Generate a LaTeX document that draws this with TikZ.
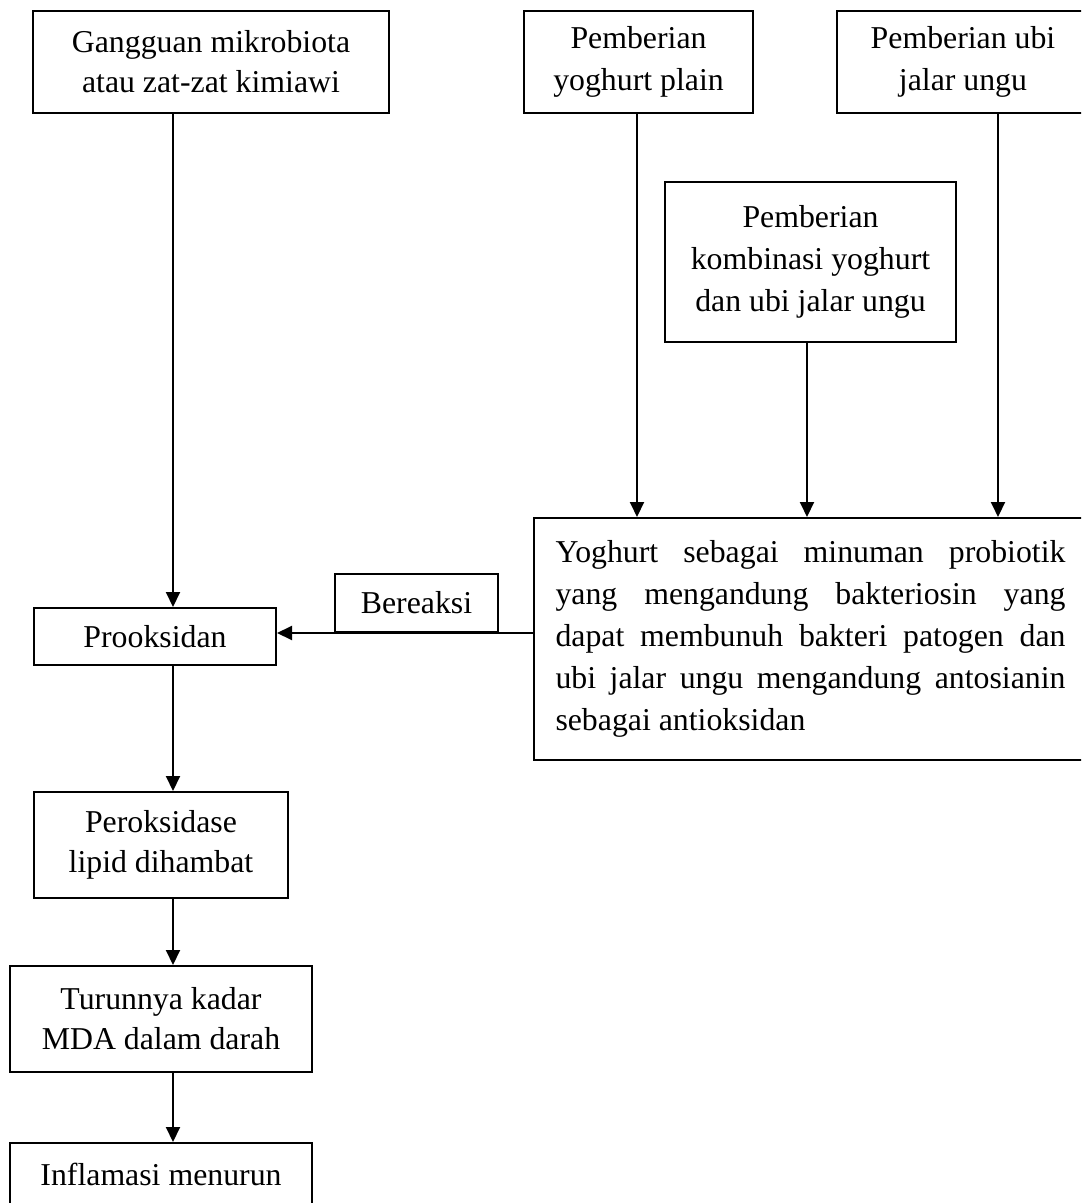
\documentclass[tikz,border=0pt]{standalone}
\usepackage{fontspec}
\setmainfont{Liberation Serif}
\usetikzlibrary{arrows.meta}
\begin{document}
\begin{tikzpicture}[x=0.5pt,y=-0.5pt,
  box/.style={draw, line width=1pt, inner sep=0pt, align=center,
    font=\fontsize{15.9}{20}\selectfont},
  wide/.style={font=\fontsize{15.9}{21}\selectfont},
  arr/.style={line width=1pt, -{Triangle[width=7pt,length=7.5pt]}}]
\path[use as bounding box] (0,0) rectangle (1081,1203);
\clip (0,0) rectangle (1081,1203);

% top row
\node[box, minimum width=178pt, minimum height=51pt] (A) at (211,62) {Gangguan mikrobiota\\atau zat-zat kimiawi};
\node[box, wide, minimum width=114.5pt, minimum height=51pt] (B) at (638.5,62) {Pemberian\\yoghurt plain};
\node[box, wide, minimum width=126pt, minimum height=51pt] (C) at (963,62) {Pemberian ubi\\jalar ungu};
\node[box, wide, minimum width=145.5pt, minimum height=80pt] (D) at (810.5,262) {Pemberian\\kombinasi yoghurt\\dan ubi jalar ungu};

% big box
\node[box, wide, minimum width=276.5pt, minimum height=121pt, align=left] (E) at (810.5,639)
 {\makebox[255pt][s]{Yoghurt sebagai minuman probiotik}\\
  \makebox[255pt][s]{yang mengandung bakteriosin yang}\\
  \makebox[255pt][s]{dapat membunuh bakteri patogen dan}\\
  \makebox[255pt][s]{ubi jalar ungu mengandung antosianin}\\
  sebagai antioksidan};

\node[box, minimum width=81.5pt, minimum height=29pt] (Ber) at (416.5,603) {Bereaksi};

% left column
\node[box, minimum width=121pt, minimum height=28.5pt] (Pro) at (155,636.5) {Prooksidan};
\node[box, minimum width=127pt, minimum height=53pt] (Per) at (161,845) {Peroksidase\\lipid dihambat};
\node[box, minimum width=151pt, minimum height=53pt] (Tur) at (161,1019) {Turunnya kadar\\MDA dalam darah};
\node[box, minimum width=151pt, minimum height=31.5pt] (Inf) at (161,1174.5) {Inflamasi menurun};

% column coordinates
\coordinate (colL) at (173,0);
\coordinate (colB) at (637,0);
\coordinate (colD) at (807,0);
\coordinate (colC) at (998,0);

% connectors
\draw[arr] (A.south -| colL) -- (Pro.north -| colL);
\draw[arr] (Pro.south -| colL) -- (Per.north -| colL);
\draw[arr] (Per.south -| colL) -- (Tur.north -| colL);
\draw[arr] (Tur.south -| colL) -- (Inf.north -| colL);
\draw[arr] (B.south -| colB) -- (E.north -| colB);
\draw[arr] (D.south -| colD) -- (E.north -| colD);
\draw[arr] (C.south -| colC) -- (E.north -| colC);
\draw[arr] (E.west |- Ber.south) -- (Pro.east |- Ber.south);
\end{tikzpicture}
\end{document}
